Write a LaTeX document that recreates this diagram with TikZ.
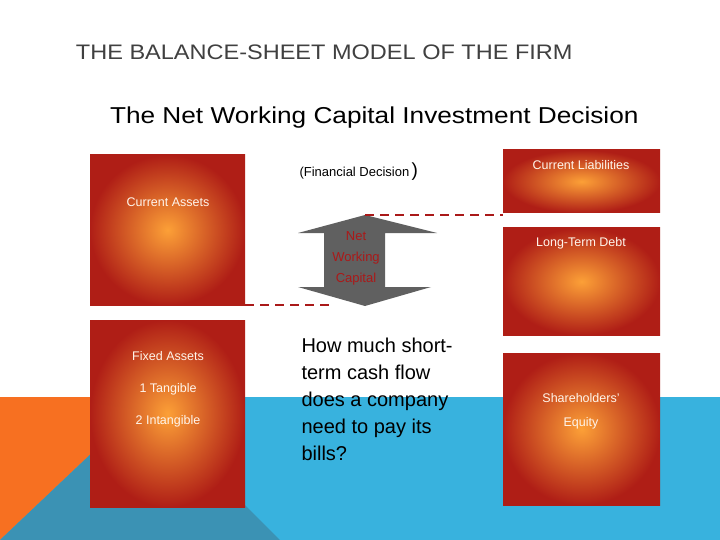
\documentclass[tikz,border=0pt]{standalone}
\usepackage{fontspec}
\setmainfont{Liberation Sans}
\usetikzlibrary{shapes.arrows}
\definecolor{orng}{RGB}{247,112,33}
\definecolor{blu}{RGB}{56,178,222}
\definecolor{dteal}{RGB}{59,146,180}
\definecolor{bxo}{RGB}{252,160,55}
\definecolor{bxr}{RGB}{175,30,22}
\definecolor{dash}{RGB}{170,25,25}
\tikzset{
 box/.style={inner color=bxo,outer color=bxr,draw=none},
 btxt/.style={text=white!92!orange,font=\fontsize{12.5}{15}\selectfont,align=center},
 dl/.style={draw=dash,line width=2.2pt,dash pattern=on 9pt off 6pt}
}
\begin{document}
\begin{tikzpicture}[x=1pt,y=-1pt]
\useasboundingbox (0,0) rectangle (720,540);
\fill[white] (0,0) rectangle (720,540);
\fill[blu] (0,397) rectangle (720,540);
\fill[orng] (0,397) -- (95,397) -- (95,450) -- (0,540) -- cycle;
\fill[dteal] (0,540) -- (95,450) -- (245,505) -- (280,540) -- cycle;
\node[anchor=west,text=black!75,font=\fontsize{21}{24}\selectfont,xscale=1.12] (title) at (72,52) {THE BALANCE-SHEET MODEL OF THE FIRM};
\node[anchor=west,font=\fontsize{23}{26}\selectfont,xscale=1.14] (sub) at (106,118) {The Net Working Capital Investment Decision};
\shade[box] (90,155) rectangle (245,305);
\node[btxt] (ca) at (168,202) {Current Assets};
\shade[box] (90,320) rectangle (245,507);
\node[btxt,align=center] (fa) at (168,389) {Fixed Assets\\[17pt]1 Tangible\\[17pt]2 Intangible};
\shade[box] (503,150) rectangle (660,213);
\node[btxt] (cl) at (581,165) {Current Liabilities};
\shade[box] (503,228) rectangle (660,335);
\node[btxt] (ltd) at (581,243) {Long-Term Debt};
\shade[box] (503,353) rectangle (660,505);
\node[btxt,font=\fontsize{12.5}{24}\selectfont] (se) at (581,411) {Shareholders'\\Equity};
\node[font=\fontsize{13}{15}\selectfont,anchor=west] (fd) at (296,172) {(Financial Decision\,\fontsize{19}{19}\selectfont)};
\fill[gray!75!black] (365,215) -- (437,233) -- (385,233) -- (385,287) -- (431,287) -- (365,306) -- (298,287) -- (324,287) -- (324,233) -- (298,233) -- cycle;
\node[text=dash,font=\fontsize{13}{21}\selectfont,align=center] (nwc) at (356,258) {Net\\Working\\Capital};
\coordinate (t1) at (365,215); \coordinate (t2) at (503,215);
\coordinate (b1) at (245,305); \coordinate (b2) at (330,305);
\draw[dl] (t1) -- (t2);
\draw[dl] (b1) -- (b2);
\node[anchor=north west,align=left,font=\fontsize{20}{27}\selectfont] (q) at (298,334) {How much short-\\term cash flow\\does a company\\need to pay its\\bills?};
\end{tikzpicture}
\end{document}
